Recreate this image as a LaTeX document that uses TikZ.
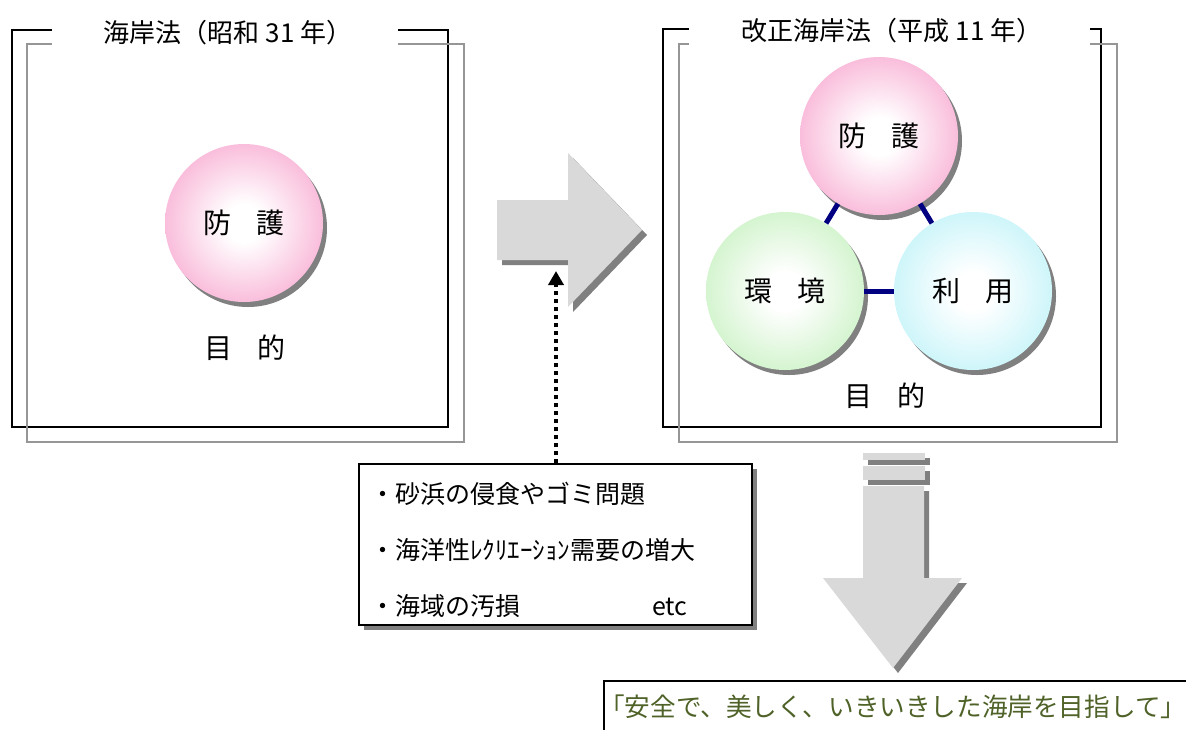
\documentclass[tikz,border=0pt]{standalone}
\usepackage{fontspec}
\setmainfont{Noto Sans CJK JP}
\usetikzlibrary{arrows.meta,shadows}
\definecolor{pinkc}{RGB}{246,152,199}
\definecolor{greenc}{RGB}{188,238,180}
\definecolor{cyanc}{RGB}{178,240,247}
\definecolor{arrowgray}{RGB}{217,217,217}
\definecolor{shadowgray}{RGB}{128,128,128}
\definecolor{framegray}{RGB}{150,150,150}
\definecolor{olivetext}{RGB}{79,98,40}
\definecolor{navyline}{RGB}{0,0,128}
\pgfdeclareradialshading{pinkball}{\pgfpoint{0bp}{0bp}}{color(0bp)=(white);color(6bp)=(white);color(36bp)=(pinkc);color(50bp)=(pinkc)}
\pgfdeclareradialshading{greenball}{\pgfpoint{0bp}{0bp}}{color(0bp)=(white);color(6bp)=(white);color(36bp)=(greenc);color(50bp)=(greenc)}
\pgfdeclareradialshading{cyanball}{\pgfpoint{0bp}{0bp}}{color(0bp)=(white);color(6bp)=(white);color(36bp)=(cyanc);color(50bp)=(cyanc)}
\newcommand{\wgap}{\hspace{0.9em}}
\tikzset{
  frameblack/.style={draw=black, line width=2pt},
  framegrayline/.style={draw=framegray, line width=2pt},
  titletext/.style={font=\fontsize{26}{30}\selectfont, inner sep=0pt},
  ball/.style={circle, minimum size=158pt, inner sep=0pt, font=\fontsize{28}{32}\selectfont,
    drop shadow={shadow xshift=4pt, shadow yshift=-5pt, fill=shadowgray, opacity=1}},
  purposetext/.style={font=\fontsize{28}{32}\selectfont, inner sep=0pt},
  link/.style={draw=navyline, line width=5pt},
  bigarrow/.style={fill=arrowgray},
  bigarrowshadow/.style={fill=shadowgray},
  dotarrow/.style={line width=4pt, dash pattern=on 4pt off 4pt, -{Triangle[width=15pt,length=14pt]}},
  issuebox/.style={draw=black, line width=1.5pt, fill=white,
    drop shadow={shadow xshift=5pt, shadow yshift=-5pt, fill=shadowgray, opacity=1}},
}
\begin{document}
\begin{tikzpicture}[x=1pt, y=-1pt]
\clip (0,0) rectangle (1186,729);
\fill[white] (0,0) rectangle (1186,729);
% left frame
\draw[frameblack] (52,30) -- (12,30) -- (12,427) -- (448,427) -- (448,30) -- (398,30);
\draw[framegrayline] (52,44) -- (27,44) -- (27,442) -- (464,442) -- (464,44) -- (398,44);
\node[titletext] (titleL) at (228,33) {海岸法（昭和 31 年）};
% right frame
\draw[frameblack] (689,29) -- (663,29) -- (663,427) -- (1101,427) -- (1101,29) -- (1090,29);
\draw[framegrayline] (689,44) -- (679,44) -- (679,442) -- (1117,442) -- (1117,44) -- (1090,44);
\node[titletext] (titleR) at (892,31) {改正海岸法（平成 11 年）};
% left ball
\node[ball, shading=pinkball] (ballL) at (244,223) {防\wgap 護};
\node[purposetext] (purposeL) at (245,348) {目\wgap 的};
% right balls
\node[ball, shading=pinkball] (ballP) at (879,136) {防\wgap 護};
\node[ball, shading=greenball] (ballE) at (785,291) {環\wgap 境};
\node[ball, shading=cyanball] (ballU) at (973,291) {利\wgap 用};
\draw[link] (ballP) -- (ballE);
\draw[link] (ballP) -- (ballU);
\draw[link] (ballE) -- (ballU);
\node[purposetext] (purposeR) at (885,396) {目\wgap 的};
% right arrow
\fill[bigarrowshadow, shift={(5,5)}] (497,200) -- (568,200) -- (568,153) -- (642,230) -- (568,307) -- (568,260) -- (497,260) -- cycle;
\fill[bigarrow] (497,200) -- (568,200) -- (568,153) -- (642,230) -- (568,307) -- (568,260) -- (497,260) -- cycle;
% issues box
\node[issuebox, minimum width=393pt, minimum height=161pt, inner sep=0pt] (issues) at (555.5,544.5) {};
\node[anchor=west, align=left, inner sep=0pt, font=\fontsize{25}{56}\selectfont] (issuetext) at (370,550)
  {・砂浜の侵食やゴミ問題\\・海洋性ﾚｸﾘｴｰｼｮﾝ需要の増大\\・海域の汚損\hspace{132pt}etc};
\coordinate (dottip) at (556,271);
\draw[dotarrow] (issues.north -| dottip) -- (dottip);
% down arrow
\begin{scope}[shift={(5,5)}]
\fill[bigarrowshadow] (863,453) rectangle (925,460);
\fill[bigarrowshadow] (863,466) rectangle (925,480);
\fill[bigarrowshadow] (863,486) -- (924,486) -- (924,578) -- (962,578) -- (893,668) -- (823,578) -- (863,578) -- cycle;
\end{scope}
\fill[bigarrow] (863,453) rectangle (925,460);
\fill[bigarrow] (863,466) rectangle (925,480);
\fill[bigarrow] (863,486) -- (924,486) -- (924,578) -- (962,578) -- (893,668) -- (823,578) -- (863,578) -- cycle;
% goal banner
\node[draw=black, line width=1.5pt, fill=white, anchor=north west, minimum width=620pt, minimum height=70pt, inner sep=0pt] (goalbox) at (603,680) {};
\node[anchor=west, inner sep=0pt, text=olivetext, font=\fontsize{25.6}{30}\selectfont] (goaltext) at (599,707)
  {「安全で、美しく、いきいきした海岸を目指して」};
\end{tikzpicture}
\end{document}
